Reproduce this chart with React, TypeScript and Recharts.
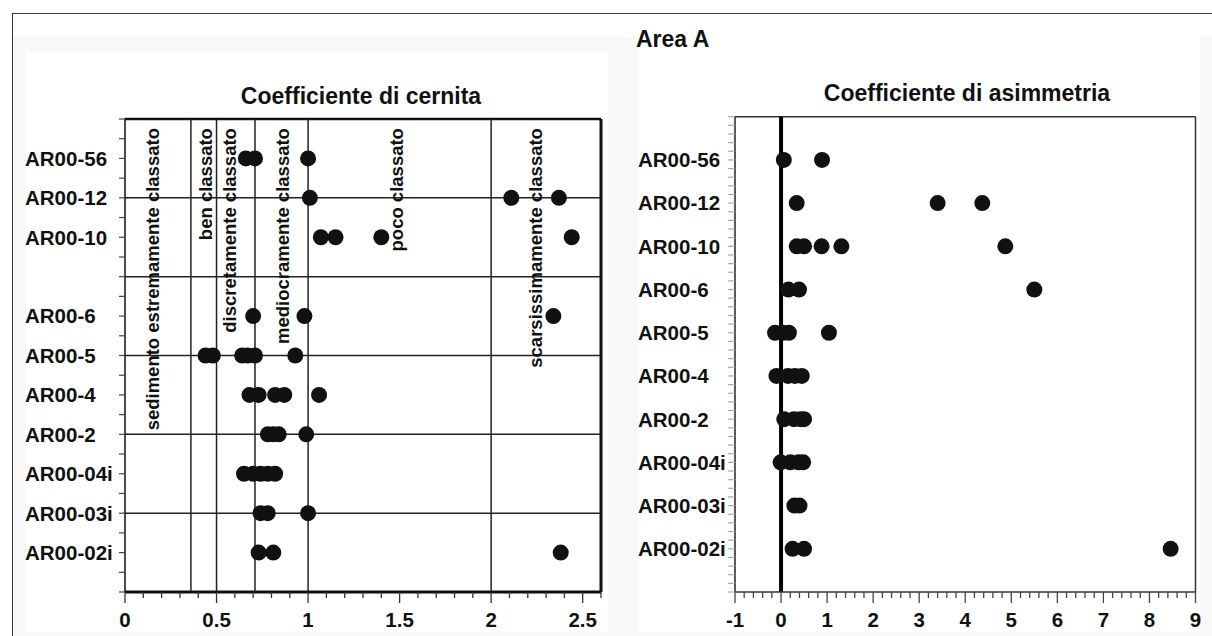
import { ScatterChart, Scatter, XAxis, YAxis, ReferenceLine } from 'recharts'

const FONT = '"Liberation Sans", Arial, sans-serif'

// samples, top to bottom
const samples = ['AR00-56', 'AR00-12', 'AR00-10', 'AR00-6', 'AR00-5', 'AR00-4', 'AR00-2', 'AR00-04i', 'AR00-03i', 'AR00-02i']
// row position of each sample on the two y axes (left one has an empty row after AR00-10)
const sortingRows = [1, 2, 3, 5, 6, 7, 8, 9, 10, 11]
const skewRows = [1, 2, 3, 4, 5, 6, 7, 8, 9, 10]

// Coefficiente di cernita
const sortingValues = [
  [0.66, 0.71, 1.0],
  [1.01, 2.11, 2.37],
  [1.07, 1.15, 1.4, 2.44],
  [0.7, 0.98, 2.34],
  [0.44, 0.48, 0.64, 0.67, 0.71, 0.93],
  [0.68, 0.73, 0.82, 0.87, 1.06],
  [0.78, 0.81, 0.84, 0.99],
  [0.65, 0.7, 0.74, 0.78, 0.82],
  [0.74, 0.78, 1.0],
  [0.73, 0.81, 2.38],
]

// Coefficiente di asimmetria
const skewValues = [
  [0.06, 0.89],
  [0.34, 3.4, 4.37],
  [0.34, 0.5, 0.88, 1.31, 4.87],
  [0.16, 0.39, 5.5],
  [-0.13, 0.04, 0.17, 1.04],
  [-0.1, 0.15, 0.3, 0.45],
  [0.07, 0.28, 0.42, 0.5],
  [-0.01, 0.2, 0.38, 0.48],
  [0.29, 0.4],
  [0.25, 0.5, 8.46],
]

const classLimits = [0.36, 0.5, 0.71, 1, 2]
const classNames = [
  'sedimento estremamente classato',
  'ben classato',
  'discretamente classato',
  'mediocramente classato',
  'poco classato',
  'scarsissimamente classato',
]
const classNamePos = [0.15, 0.44, 0.57, 0.86, 1.48, 2.24]
const classNameTop = 0.23
const sortingBands = [2, 4, 6, 8, 10]

const sortingMajor = [0, 0.5, 1, 1.5, 2, 2.5]
const skewMajor = [-1, 0, 1, 2, 3, 4, 5, 6, 7, 8, 9]

const steps = (lo: number, hi: number, step: number) => {
  const out: number[] = []
  const n = Math.round((hi - lo) / step)
  for (let i = 0; i <= n; i++) out.push(Math.round((lo + i * step) * 1000) / 1000)
  return out
}

const near = (a: number, b: number) => Math.abs(a - b) < 1e-6

const sortingData = sortingValues.flatMap((vals, i) => vals.map((v) => ({ x: v, y: sortingRows[i] })))
const skewData = skewValues.flatMap((vals, i) => vals.map((v) => ({ x: v, y: skewRows[i] })))
const classLabelData = classNames.map((t, i) => ({ x: classNamePos[i], y: classNameTop, text: t }))

function XTick({ x, y, payload, majors, color }: any) {
  const v = payload.value
  const isMajor = majors.some((m: number) => near(m, v))
  return (
    <g>
      <line x1={x} x2={x} y1={y} y2={y + (isMajor ? 11 : 6)} stroke={color} strokeWidth={1.3} />
      {isMajor && (
        <text x={x} y={y + 35} textAnchor="middle" fontSize={20.5} fontWeight="bold" fontFamily={FONT} fill="#111">
          {String(v)}
        </text>
      )}
    </g>
  )
}

function YTick({ x, y, payload, rows, labelX, color, len }: any) {
  const idx = rows.findIndex((r: number) => near(r, payload.value))
  return (
    <g>
      <line x1={x - len} x2={x} y1={y} y2={y} stroke={color} strokeWidth={1.2} />
      {idx >= 0 && (
        <text x={labelX} y={y} dy="0.36em" textAnchor="start" fontSize={20.5} fontWeight="bold" fontFamily={FONT} fill="#111">
          {samples[idx]}
        </text>
      )}
    </g>
  )
}

const dot = (p: any) => <circle cx={p.cx} cy={p.cy} r={8} fill="#111" />

const classLabel = (p: any) => (
  <text
    x={p.cx}
    y={p.cy}
    dy="0.36em"
    transform={`rotate(-90 ${p.cx} ${p.cy})`}
    textAnchor="end"
    fontSize={18.5}
    fontWeight="bold"
    fontFamily={FONT}
    fill="#111"
  >
    {p.payload.text}
  </text>
)

function SortingChart() {
  return (
    <ScatterChart width={620} height={636} margin={{ top: 119, right: 19, bottom: 4, left: 25 }}>
      <XAxis
        type="number"
        dataKey="x"
        domain={[0, 2.6]}
        ticks={steps(0, 2.6, 0.1)}
        interval={0}
        tickSize={0}
        tickMargin={0}
        tickLine={false}
        height={40}
        axisLine={{ stroke: '#111', strokeWidth: 3 }}
        tick={(p: any) => <XTick {...p} majors={sortingMajor} color="#333" />}
      />
      <YAxis
        type="number"
        dataKey="y"
        domain={[0, 12]}
        reversed
        ticks={steps(0, 12, 0.5)}
        interval={0}
        tickSize={0}
        tickMargin={0}
        tickLine={false}
        width={100}
        axisLine={{ stroke: '#111', strokeWidth: 1.5 }}
        tick={(p: any) => <YTick {...p} rows={sortingRows} labelX={25} color="#444" len={6} />}
      />
      <ReferenceLine y={0} stroke="#111" strokeWidth={2.5} />
      <ReferenceLine x={2.6} stroke="#111" strokeWidth={3} />
      {classLimits.map((v) => (
        <ReferenceLine key={`v${v}`} x={v} stroke="#222" strokeWidth={1.5} />
      ))}
      {sortingBands.map((v) => (
        <ReferenceLine key={`h${v}`} y={v} stroke="#222" strokeWidth={1.5} />
      ))}
      <Scatter data={classLabelData} shape={classLabel} isAnimationActive={false} />
      <Scatter data={sortingData} shape={dot} isAnimationActive={false} />
    </ScatterChart>
  )
}

function SkewChart() {
  return (
    <ScatterChart width={602} height={636} margin={{ top: 116.7, right: 16.5, bottom: 4, left: 25 }}>
      <XAxis
        type="number"
        dataKey="x"
        domain={[-1, 9]}
        ticks={steps(-1, 9, 0.2)}
        interval={0}
        tickSize={0}
        tickMargin={0}
        tickLine={false}
        height={40}
        axisLine={{ stroke: '#333', strokeWidth: 1.5 }}
        tick={(p: any) => <XTick {...p} majors={skewMajor} color="#444" />}
      />
      <YAxis
        type="number"
        dataKey="y"
        domain={[0, 11]}
        reversed
        ticks={steps(0, 11, 0.2)}
        interval={0}
        tickSize={0}
        tickMargin={0}
        tickLine={false}
        width={100}
        axisLine={{ stroke: '#222', strokeWidth: 1.5 }}
        tick={(p: any) => <YTick {...p} rows={skewRows} labelX={28} color="#aaa" len={7} />}
      />
      <ReferenceLine y={0} stroke="#333" strokeWidth={1.5} />
      <ReferenceLine x={9} stroke="#333" strokeWidth={1.5} />
      <ReferenceLine x={0} stroke="#000" strokeWidth={4} />
      <Scatter data={skewData} shape={dot} isAnimationActive={false} />
    </ScatterChart>
  )
}

export default function App() {
  return (
    <div style={{ position: 'absolute', left: 0, top: 0, width: 1212, height: 636, background: '#fff', overflow: 'hidden' }}>
      {/* frame and faint panels of the original page */}
      <div style={{ position: 'absolute', left: 12, top: 37, width: 1200, height: 599, background: '#f8f8f8' }} />
      <div style={{ position: 'absolute', left: 26, top: 52, width: 582, height: 580, background: '#fff' }} />
      <div style={{ position: 'absolute', left: 638, top: 30, width: 562, height: 602, background: '#fff' }} />
      <div style={{ position: 'absolute', left: 12, top: 13, width: 1200, height: 623, borderTop: '1.5px solid #333', borderLeft: '1.5px solid #333', boxSizing: 'border-box' }} />

      <div style={{ position: 'absolute', left: 0, top: 0 }}>
        <SortingChart />
      </div>
      <div style={{ position: 'absolute', left: 610, top: 0 }}>
        <SkewChart />
      </div>

      <svg width={1212} height={636} style={{ position: 'absolute', left: 0, top: 0, pointerEvents: 'none' }}>
        <text x={636} y={47} fontSize={23} fontWeight="bold" fontFamily={FONT} fill="#111">
          Area A
        </text>
        <text x={361} y={104} textAnchor="middle" fontSize={23} fontWeight="bold" fontFamily={FONT} fill="#111">
          Coefficiente di cernita
        </text>
        <text x={967} y={101} textAnchor="middle" fontSize={23} fontWeight="bold" fontFamily={FONT} fill="#111">
          Coefficiente di asimmetria
        </text>
      </svg>
    </div>
  )
}
